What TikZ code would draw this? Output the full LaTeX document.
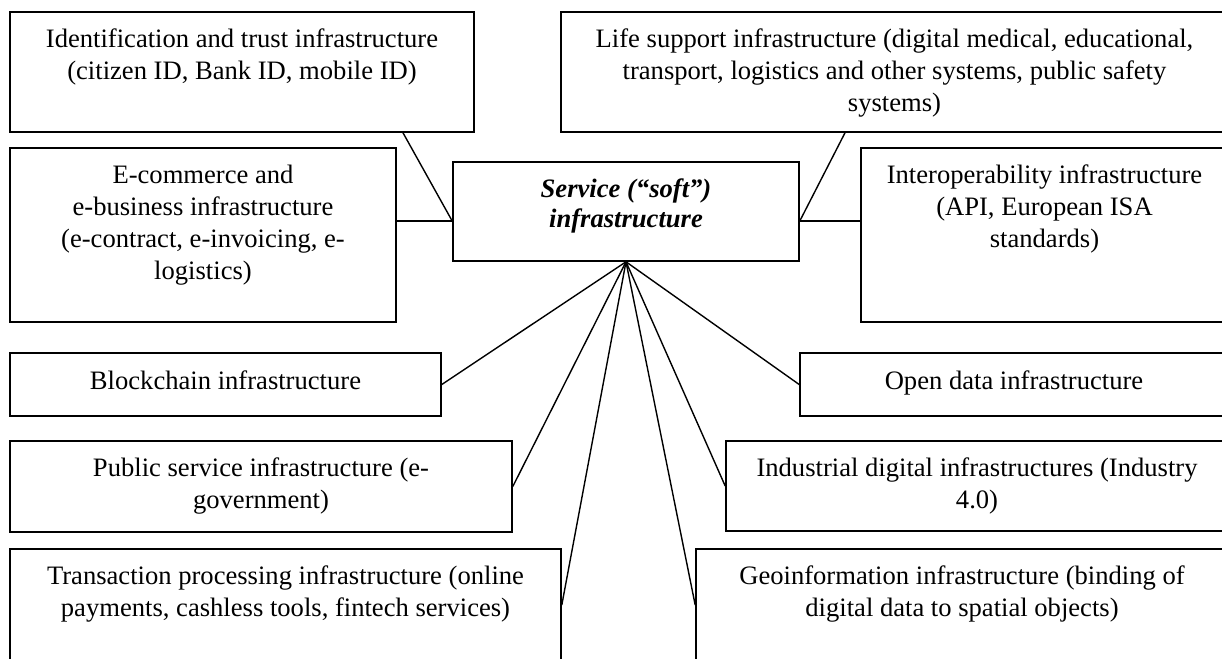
\documentclass[tikz,border=0pt]{standalone}
\usepackage{fontspec}
\setmainfont{Liberation Serif}
\usepackage{tikz}
\usetikzlibrary{calc,positioning}

\begin{document}
\begin{tikzpicture}[x=0.5pt, y=-0.5pt]
	\tikzstyle{box} = [rectangle, draw = black, line width = 0.8pt, inner sep = 0pt]
	\tikzstyle{caption} = [anchor = north, inner sep = 0pt, align = center, font = \fontsize{13.3}{16}\selectfont]
	\useasboundingbox (0, 0) rectangle (1222, 659);
	\clip (0, 0) rectangle (1222, 659);

\node[box, minimum width = 232pt, minimum height = 60pt] (ident) at (242, 72) {};
\node[box, minimum width = 333.5pt, minimum height = 60pt] (life) at (894.5, 72) {};
\node[box, minimum width = 193pt, minimum height = 87pt] (ecom) at (203, 235) {};
\node[box, minimum width = 173pt, minimum height = 49.5pt] (soft) at (626, 211.5) {};
\node[box, minimum width = 183.5pt, minimum height = 87pt] (interop) at (1044.5, 235) {};
\node[box, minimum width = 215.5pt, minimum height = 31.5pt] (block) at (225.5, 384.5) {};
\node[box, minimum width = 214pt, minimum height = 31.5pt] (open) at (1014, 384.5) {};
\node[box, minimum width = 251pt, minimum height = 45.5pt] (pub) at (261, 486.5) {};
\node[box, minimum width = 251pt, minimum height = 45pt] (indus) at (977, 486) {};
\node[box, minimum width = 275.5pt, minimum height = 56pt] (trans) at (285.5, 605) {};
\node[box, minimum width = 266pt, minimum height = 56pt] (geo) at (962, 605) {};

% texts, top aligned in their boxes
\node[caption] (identT) at ([yshift = -6.8pt]ident.north) {\strut Identification and trust infrastructure\\(citizen ID, Bank ID, mobile ID)};
\node[caption] (lifeT) at ([yshift = -6.8pt]life.north) {\strut Life support infrastructure (digital medical, educational,\\transport, logistics and other systems, public safety\\systems)};
\node[caption] (ecomT) at ([yshift = -6.8pt]ecom.north) {\strut E-commerce and\\e-business infrastructure\\(e-contract, e-invoicing, e-\\logistics)};
\node[caption, font = \fontsize{13.3}{15}\selectfont\bfseries\itshape] (softT) at ([yshift = -7.3pt]soft.north) {\strut Service (“soft”)\\infrastructure};
\node[caption] (interopT) at ([yshift = -6.8pt]interop.north) {\strut Interoperability infrastructure\\(API, European ISA\\standards)};
\node[caption] (blockT) at ([yshift = -7pt]block.north) {\strut Blockchain infrastructure};
\node[caption] (openT) at ([yshift = -7pt]open.north) {\strut Open data infrastructure};
\node[caption] (pubT) at ([yshift = -6.8pt]pub.north) {\strut Public service infrastructure (e-\\government)};
\node[caption] (indusT) at ([yshift = -6.8pt]indus.north) {\strut Industrial digital infrastructures (Industry\\4.0)};
\node[caption] (transT) at ([yshift = -6.8pt]trans.north) {\strut Transaction processing infrastructure (online\\payments, cashless tools, fintech services)};
\node[caption] (geoT) at ([yshift = -6.8pt]geo.north) {\strut Geoinformation infrastructure (binding of\\digital data to spatial objects)};

\coordinate (identFoot) at ([xshift = 80.5pt]ident.south);
\coordinate (lifeFoot) at ([xshift = -24.75pt]life.south);
\coordinate (softL) at ([yshift = -4.75pt]soft.west);
\coordinate (softR) at ([yshift = -4.75pt]soft.east);

	\path[draw, line width = 0.7pt] (identFoot) -- (softL);
	\path[draw, line width = 0.7pt] (ecom.east |- softL) -- (softL);
	\path[draw, line width = 0.7pt] (lifeFoot) -- (softR);
	\path[draw, line width = 0.7pt] (interop.west |- softR) -- (softR);
	\foreach \t in {block.east, pub.east, trans.east, geo.west, indus.west, open.west}
		\path[draw, line width = 0.7pt] (soft.south) -- (\t);
\end{tikzpicture}
\end{document}
